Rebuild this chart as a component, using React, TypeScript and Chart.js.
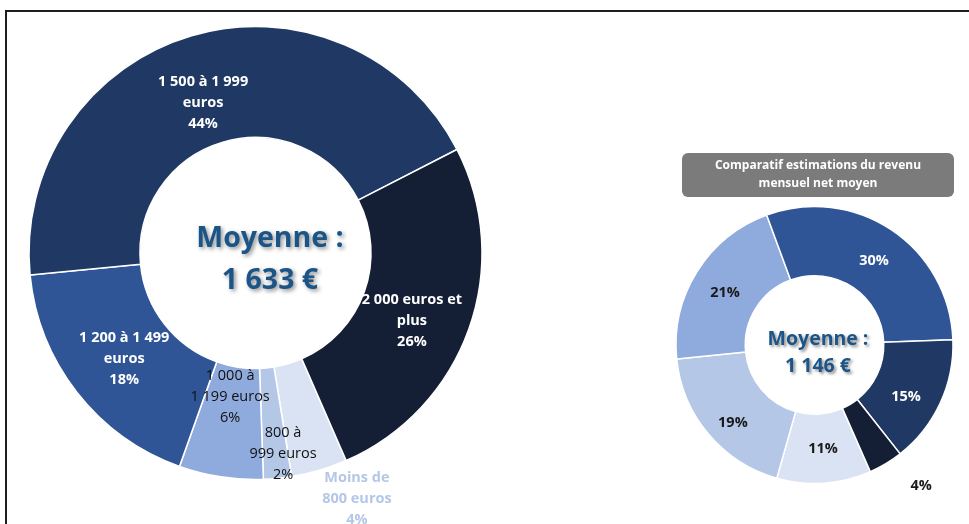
import { useEffect, useRef } from "react";
import { Chart, registerables } from "chart.js";

Chart.register(...registerables);

// ---- data ----
const categories: string[][] = [
  ["Moins de", "800 euros"],
  ["800 à", "999 euros"],
  ["1 000 à", "1 199 euros"],
  ["1 200 à 1 499", "euros"],
  ["1 500 à 1 999", "euros"],
  ["2 000 euros et", "plus"],
];
const mainShares = [4, 2, 6, 18, 44, 26];
const compareShares = [11, 19, 21, 30, 15, 4];
const averageCaption = "Moyenne :";
const mainAverage = "1 633 €";
const compareAverage = "1 146 €";
const compareTitle = ["Comparatif estimations du revenu", "mensuel net moyen"];

// ---- styles ----
const segmentColors = ["#DAE3F3", "#B4C7E7", "#8FAADC", "#2F5597", "#203864", "#141E35"];
const W = 969;
const H = 524;
const FONT = '"Open Sans", "DejaVu Sans", sans-serif';

function padFor(cx: number, cy: number, R: number, bw: number) {
  const S = 2 * R + bw;
  const left = cx - S / 2;
  const top = cy - S / 2;
  return { left, top, right: W - (left + S), bottom: H - (top + S) };
}

const ringLabels = {
  id: "ringLabels",
  afterDatasetsDraw(chart: any, _a: any, opts: any) {
    const meta = chart.getDatasetMeta(0);
    const ctx = chart.ctx as CanvasRenderingContext2D;
    const data = chart.data.datasets[0].data as number[];
    meta.data.forEach((arc: any, i: number) => {
      const p = arc.getProps(["x", "y", "startAngle", "endAngle", "outerRadius"], true);
      const mid = (p.startAngle + p.endAngle) / 2 + (opts.nudge[i] * Math.PI) / 180;
      const r = p.outerRadius * opts.radius[i];
      const lx = p.x + Math.cos(mid) * r;
      const ly = p.y + Math.sin(mid) * r;
      const lines: string[] = opts.showCategory
        ? [...(chart.data.labels[i] as string[]), data[i] + "%"]
        : [data[i] + "%"];
      ctx.save();
      ctx.font = `${opts.weights[i]} ${opts.size}px ${FONT}`;
      ctx.fillStyle = opts.colors[i];
      ctx.textAlign = "center";
      ctx.textBaseline = "middle";
      lines.forEach((t, k) => {
        ctx.fillText(t, lx, ly + (k - (lines.length - 1) / 2) * opts.lineHeight);
      });
      ctx.restore();
    });
  },
};

const centerText = {
  id: "centerText",
  afterDraw(chart: any, _a: any, opts: any) {
    const arc = chart.getDatasetMeta(0).data[0];
    if (!arc) return;
    const { x, y } = arc.getProps(["x", "y"], true);
    const ctx = chart.ctx as CanvasRenderingContext2D;
    ctx.save();
    ctx.font = `bold ${opts.size}px ${FONT}`;
    ctx.textAlign = "center";
    ctx.textBaseline = "alphabetic";
    ctx.fillStyle = "#1B5588";
    ctx.shadowColor = "rgba(0,0,0,0.45)";
    ctx.shadowBlur = opts.blur;
    ctx.shadowOffsetX = 2;
    ctx.shadowOffsetY = 2;
    (opts.lines as string[]).forEach((t, k) => {
      ctx.fillText(t, x + opts.dx, y + opts.baselines[k]);
    });
    ctx.restore();
  },
};

const titleBox = {
  id: "titleBox",
  afterDraw(chart: any, _a: any, opts: any) {
    if (!opts.lines) return;
    const arc = chart.getDatasetMeta(0).data[0];
    if (!arc) return;
    const { x, y } = arc.getProps(["x", "y"], true);
    const ctx = chart.ctx as CanvasRenderingContext2D;
    const bx = x + opts.dx - opts.width / 2;
    const by = y + opts.dy;
    ctx.save();
    ctx.fillStyle = "#7B7B7B";
    ctx.beginPath();
    (ctx as any).roundRect(bx, by, opts.width, opts.height, 6);
    ctx.fill();
    ctx.fillStyle = "#FFFFFF";
    ctx.font = `bold ${opts.size}px ${FONT}`;
    ctx.textAlign = "center";
    ctx.textBaseline = "middle";
    (opts.lines as string[]).forEach((t, k) => {
      ctx.fillText(t, x + opts.dx, by + opts.height / 2 + (k - (opts.lines.length - 1) / 2) * opts.lineHeight);
    });
    ctx.restore();
  },
};

function makeChart(canvas: HTMLCanvasElement, cfg: any) {
  return new Chart(canvas, {
    type: "doughnut",
    data: {
      labels: categories,
      datasets: [
        {
          data: cfg.values,
          backgroundColor: segmentColors,
          borderColor: "#FFFFFF",
          borderWidth: 1.5,
        },
      ],
    },
    options: {
      responsive: false,
      maintainAspectRatio: false,
      animation: false,
      cutout: cfg.cutout,
      rotation: cfg.rotation,
      layout: { padding: padFor(cfg.cx, cfg.cy, cfg.R, 1.5) },
      plugins: {
        legend: { display: false },
        tooltip: { enabled: false },
        ringLabels: cfg.labels,
        centerText: cfg.center,
        titleBox: cfg.title || {},
      } as any,
    },
    plugins: [ringLabels, centerText, titleBox],
  } as any);
}

export default function App() {
  const mainRef = useRef<HTMLCanvasElement>(null);
  const compRef = useRef<HTMLCanvasElement>(null);

  useEffect(() => {
    let charts: Chart[] = [];
    let cancelled = false;
    const build = () => {
      if (cancelled || !mainRef.current || !compRef.current) return;
      charts.push(
        makeChart(mainRef.current, {
          values: mainShares,
          cx: 255.5,
          cy: 253,
          R: 226.5,
          cutout: "51%",
          rotation: 156.4,
          labels: {
            showCategory: true,
            size: 14.5,
            lineHeight: 21,
            radius: [1.175, 0.896, 0.645, 0.745, 0.7, 0.753],
            nudge: [-6, -2.2, 1.2, -0.9, -2.9, 3.9],
            colors: ["#B4C7E7", "#111111", "#111111", "#FFFFFF", "#FFFFFF", "#FFFFFF"],
            weights: ["bold", "normal", "normal", "bold", "bold", "bold"],
          },
          center: { lines: [averageCaption, mainAverage], size: 28.5, baselines: [-6, 36], dx: 14.5, blur: 4 },
        })
      );
      charts.push(
        makeChart(compRef.current, {
          values: compareShares,
          cx: 814.5,
          cy: 345,
          R: 138.5,
          cutout: "50%",
          rotation: 156.2,
          labels: {
            showCategory: false,
            size: 14.5,
            lineHeight: 20,
            radius: [0.753, 0.815, 0.747, 0.743, 0.76, 1.276],
            nudge: [-0.7, -3.7, -1.8, 1.5, 4.8, -6.1],
            colors: ["#1A1A1A", "#1A1A1A", "#1A1A1A", "#FFFFFF", "#FFFFFF", "#1A1A1A"],
            weights: ["bold", "bold", "bold", "bold", "bold", "bold"],
          },
          center: { lines: [averageCaption, compareAverage], size: 19.5, baselines: [0, 27], dx: 3.5, blur: 3 },
          title: { lines: compareTitle, size: 12, lineHeight: 18, width: 272, height: 44, dx: 3.5, dy: -192 },
        })
      );
    };
    const fontsApi = (document as any).fonts;
    if (fontsApi && fontsApi.load) {
      Promise.all([
        fontsApi.load(`bold 15px "Open Sans"`),
        fontsApi.load(`15px "Open Sans"`),
      ])
        .catch(() => null)
        .then(build);
    } else {
      build();
    }
    return () => {
      cancelled = true;
      charts.forEach((c) => c.destroy());
      charts = [];
    };
  }, []);

  const canvasStyle: React.CSSProperties = {
    position: "absolute",
    left: 0,
    top: 0,
    width: W,
    height: H,
  };

  return (
    <div
      style={{
        position: "fixed",
        left: 0,
        top: 0,
        width: W,
        height: H,
        background: "#FFFFFF",
        overflow: "hidden",
      }}
    >
      <div
        style={{
          position: "absolute",
          left: 5,
          top: 10,
          width: W,
          height: H,
          borderTop: "2px solid #1E1E1E",
          borderLeft: "2px solid #1E1E1E",
        }}
      />
      <canvas ref={mainRef} width={W} height={H} style={canvasStyle} />
      <canvas ref={compRef} width={W} height={H} style={canvasStyle} />
    </div>
  );
}
